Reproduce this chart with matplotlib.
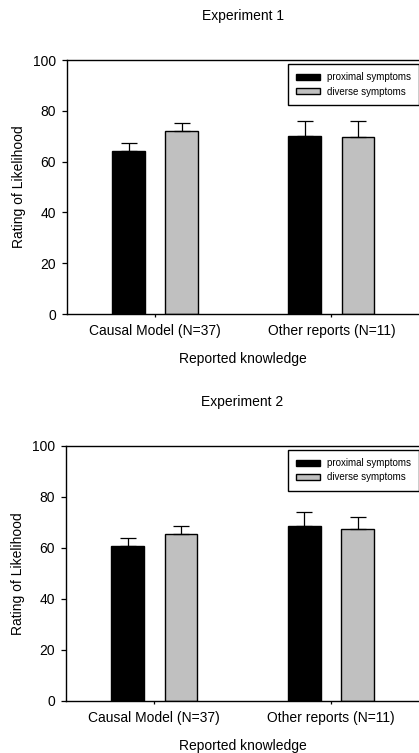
import matplotlib
matplotlib.use("Agg")
import matplotlib.pyplot as plt
import numpy as np

plt.rcParams['font.family'] = ['Liberation Sans', 'DejaVu Sans']

categories = ["Causal Model (N=37)", "Other reports (N=11)"]
series_names = ["proximal symptoms", "diverse symptoms"]
titles = ["Experiment 1", "Experiment 2"]

exp1_proximal = [64.1, 70.0]
exp1_proximal_err = [3.2, 6.1]
exp1_diverse = [71.9, 69.6]
exp1_diverse_err = [3.2, 6.2]

exp2_proximal = [60.8, 68.6]
exp2_proximal_err = [3.1, 5.4]
exp2_diverse = [65.5, 67.5]
exp2_diverse_err = [2.9, 4.7]

yticks = [0, 20, 40, 60, 80, 100]

W, H = 419, 753
fig = plt.figure(figsize=(W / 100, H / 100), dpi=100)

def px_axes(left, top, right, bottom):
    return [left / W, 1 - bottom / H, (right - left) / W, (bottom - top) / H]

panels = [
    (titles[0], exp1_proximal, exp1_proximal_err, exp1_diverse, exp1_diverse_err,
     px_axes(67, 60, 419.5, 314), 16),
    (titles[1], exp2_proximal, exp2_proximal_err, exp2_diverse, exp2_diverse_err,
     px_axes(66, 445.7, 419.5, 700.7), 402),
]

x = np.arange(len(categories))
bw = 0.185
off = 0.151
colors = ["#000000", "#c0c0c0"]

for title, p, pe, d, de, rect, ty in panels:
    ax = fig.add_axes(rect)
    for vals, errs, sgn, col, name in [(p, pe, -1, colors[0], series_names[0]),
                                       (d, de, 1, colors[1], series_names[1])]:
        ax.bar(x + sgn * off, vals, width=bw, color=col, edgecolor="black",
               linewidth=1.0, label=name, zorder=2,
               yerr=[np.zeros(len(errs)), errs],
               error_kw=dict(ecolor="black", elinewidth=0.9, capsize=5.5,
                             capthick=0.9, zorder=3))
    ax.set_xlim(-0.5, 1.5)
    ax.set_ylim(0, 100)
    ax.set_yticks(yticks)
    ax.set_xticks(x)
    ax.set_xticklabels(categories, fontsize=10)
    ax.tick_params(axis="y", labelsize=10, length=3.5, width=0.9, pad=4.5)
    ax.tick_params(axis="x", labelsize=10, length=2.5, width=0.9, pad=5)
    ax.spines["right"].set_visible(False)
    for s in ["top", "left", "bottom"]:
        ax.spines[s].set_linewidth(1.0)
    ax.set_ylabel("Rating of Likelihood", fontsize=10, labelpad=5)
    ax.set_xlabel("Reported knowledge", fontsize=10, labelpad=10)
    leg = ax.legend(loc="upper right", bbox_to_anchor=(0.998, 0.984),
                    borderaxespad=0, fontsize=7, frameon=True, fancybox=False,
                    edgecolor="black", framealpha=1, handlelength=2.4,
                    handleheight=0.6, handletextpad=0.7, labelspacing=0.45,
                    borderpad=0.85)
    leg.get_frame().set_linewidth(1.0)
    fig.text((rect[0] + rect[0] + rect[2]) / 2 - 0.001, 1 - ty / H, title,
             ha="center", va="center", fontsize=10)

fig.savefig("out.png", dpi=100)
